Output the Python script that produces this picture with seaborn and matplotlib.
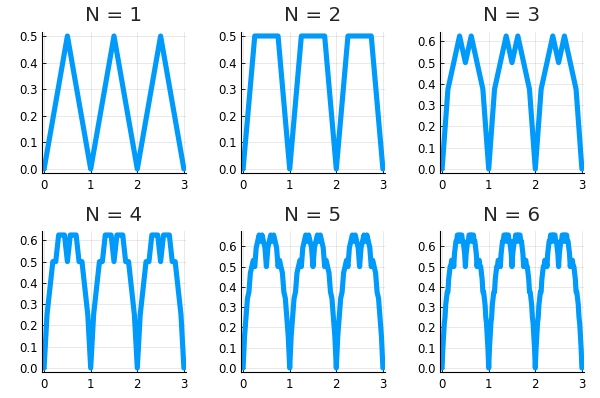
import numpy as np
import pandas as pd
import matplotlib
matplotlib.use("Agg")
import matplotlib.pyplot as plt
import seaborn as sns

# One period (x in [0, 1]) of each curve, values at evenly spaced breakpoints
titles = ["N = 1", "N = 2", "N = 3", "N = 4", "N = 5", "N = 6"]
y1 = [0.0, 0.5, 0.0]
y2 = [0.0, 0.5, 0.5, 0.5, 0.0]
y3 = [0.0, 0.375, 0.5, 0.625, 0.5, 0.625, 0.5, 0.375, 0.0]
y4 = [0.0, 0.25, 0.375, 0.5, 0.5, 0.625, 0.625, 0.625, 0.5,
      0.625, 0.625, 0.625, 0.5, 0.5, 0.375, 0.25, 0.0]
y5 = [0.0, 0.15625, 0.25, 0.34375, 0.375, 0.46875, 0.5, 0.53125, 0.5,
      0.59375, 0.625, 0.65625, 0.625, 0.65625, 0.625, 0.59375, 0.5,
      0.59375, 0.625, 0.65625, 0.625, 0.65625, 0.625, 0.59375, 0.5,
      0.53125, 0.5, 0.46875, 0.375, 0.34375, 0.25, 0.15625, 0.0]
y6 = [0.0, 0.09375, 0.15625, 0.21875, 0.25, 0.3125, 0.34375, 0.375, 0.375,
      0.4375, 0.46875, 0.5, 0.5, 0.53125, 0.53125, 0.53125, 0.5,
      0.5625, 0.59375, 0.625, 0.625, 0.65625, 0.65625, 0.65625, 0.625,
      0.65625, 0.65625, 0.65625, 0.625, 0.625, 0.59375, 0.5625, 0.5,
      0.5625, 0.59375, 0.625, 0.625, 0.65625, 0.65625, 0.65625, 0.625,
      0.65625, 0.65625, 0.65625, 0.625, 0.625, 0.59375, 0.5625, 0.5,
      0.53125, 0.53125, 0.53125, 0.5, 0.5, 0.46875, 0.4375, 0.375,
      0.375, 0.34375, 0.3125, 0.25, 0.21875, 0.15625, 0.09375, 0.0]
periods = [0, 1, 2]
series = [y1, y2, y3, y4, y5, y6]
yticks = [[0.0, 0.1, 0.2, 0.3, 0.4, 0.5]] * 2 + [[0.0, 0.1, 0.2, 0.3, 0.4, 0.5, 0.6]] * 4
xticks = [0, 1, 2, 3]

sns.set_style("white")
plt.rcParams['font.family'] = ['DejaVu Sans']

W, H = 600, 398
fig = plt.figure(figsize=(W / 100, H / 100), dpi=100)
color = "#009AFA"

lefts = [42, 241, 440]
width = 144
rows = [(32, 173), (231, 372)]
title_base = [20.7, 220.7]

for i, ys in enumerate(series):
    r, c = divmod(i, 3)
    top, bot = rows[r]
    ax = fig.add_axes([lefts[c] / W, (H - bot) / H, width / W, (bot - top) / H])
    ys = np.asarray(ys)
    n = len(ys) - 1
    base = np.linspace(0, 1, n + 1)
    xs = np.concatenate([base[:-1] + p for p in periods] + [[3.0]])
    yy = np.concatenate([ys[:-1] for _ in periods] + [[ys[-1]]])
    df = pd.DataFrame({"x": xs, "y": yy})
    sns.lineplot(data=df, x="x", y="y", ax=ax, color=color, linewidth=3.7,
                 sort=False, estimator=None)
    ymax = yy.max()
    pad = 0.03 * ymax
    ax.set_xlim(-0.045, 3.045)
    ax.set_ylim(-pad, ymax + pad)
    ax.set_xticks(xticks)
    ax.set_xticklabels([str(t) for t in xticks])
    ax.set_yticks(yticks[i])
    ax.set_yticklabels([f"{t:.1f}" for t in yticks[i]])
    ax.set_xlabel("")
    ax.set_ylabel("")
    ax.grid(True, color="black", alpha=0.1, linewidth=0.6)
    for s in ["top", "right"]:
        ax.spines[s].set_visible(False)
    for s in ["left", "bottom"]:
        ax.spines[s].set_color("black")
        ax.spines[s].set_linewidth(0.8)
    ax.tick_params(direction="in", length=3, width=0.6, labelsize=8.5,
                   colors="black", left=True, bottom=True)
    ax.tick_params(axis="x", pad=4)
    ax.tick_params(axis="y", pad=3)
    fig.text((lefts[c] + width / 2) / W, (H - title_base[r]) / H, titles[i],
             fontsize=14.3, ha="center", va="baseline")

fig.savefig("out.png", dpi=100)
